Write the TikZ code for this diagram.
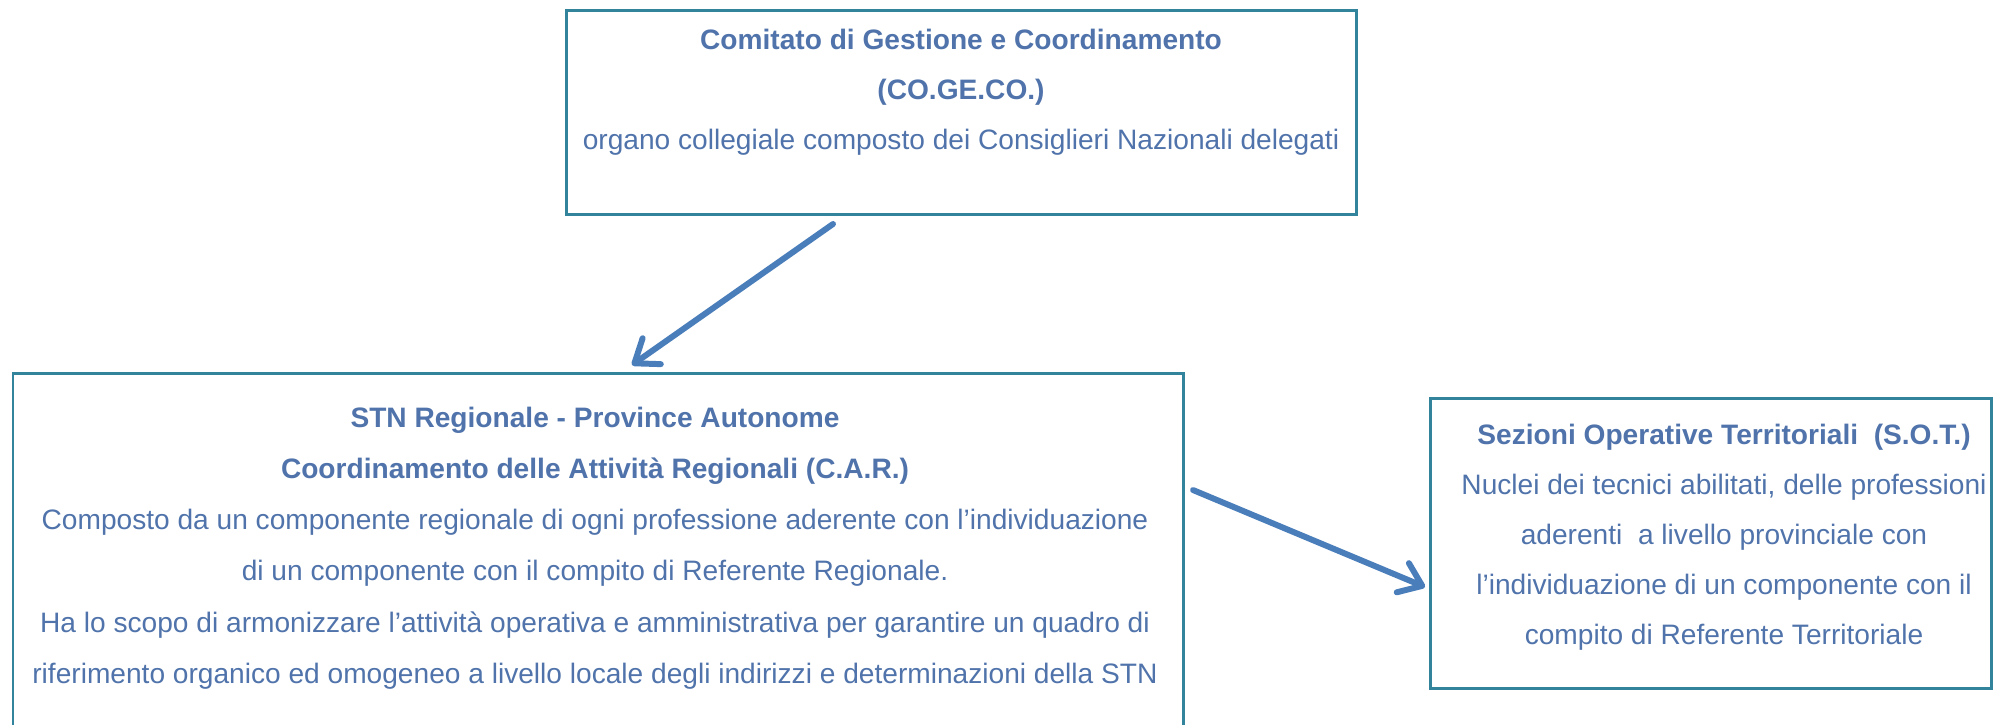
\documentclass[tikz,border=0pt]{standalone}
\usepackage{fontspec}
\setmainfont{Liberation Sans}
\usepackage{xcolor}
\usetikzlibrary{arrows.meta,calc}
\definecolor{boxteal}{RGB}{49,132,155}
\definecolor{txtblue}{RGB}{79,115,170}
\definecolor{arrblue}{RGB}{74,126,187}

\tikzset{
  panel/.style={draw=boxteal, line width=0.85pt, rectangle, inner sep=0pt},
  paneltext/.style={text=txtblue, align=center, inner sep=0pt, font=\fontsize{8}{14.2}\selectfont},
  flow/.style={draw=arrblue, line width=1.7pt, line cap=round, -{Straight Barb[length=6pt,width=9pt,round]}}
}

\begin{document}
\begin{tikzpicture}
    \clip (0,0) rectangle (19.95,-7.24);
    % boxes
    \node[panel, minimum width=7.90cm, minimum height=2.04cm] (cogeco) at (9.61,-1.12) {};
    \node[panel, minimum width=11.70cm, minimum height=3.67cm] (car) at (5.98,-5.565) {};
    \node[panel, minimum width=5.61cm, minimum height=2.90cm] (sot) at (17.105,-5.43) {};
    % texts
    \node[paneltext] (cogecotxt) at (9.61,-0.92) {\textbf{Comitato di Gestione e Coordinamento}\\ \textbf{(CO.GE.CO.)}\\ organo collegiale composto dei Consiglieri Nazionali delegati};
    \node[paneltext, font=\fontsize{8}{14.6}\selectfont] (cartxt) at (5.95,-5.48) {\textbf{STN Regionale - Province Autonome}\\ \textbf{Coordinamento delle Attività Regionali (C.A.R.)}\\ Composto da un componente regionale di ogni professione aderente con l’individuazione\\ di un componente con il compito di Referente Regionale.\\ Ha lo scopo di armonizzare l’attività operativa e amministrativa per garantire un quadro di\\ riferimento organico ed omogeneo a livello locale degli indirizzi e determinazioni della STN};
    \node[paneltext] (sottxt) at (17.24,-5.37) {\textbf{Sezioni Operative Territoriali\ \ (S.O.T.)}\\ Nuclei dei tecnici abilitati, delle professioni\\ aderenti\ \ a livello provinciale con\\ l’individuazione di un componente con il\\ compito di Referente Territoriale};
    % arrows
    \coordinate (a1s) at (8.33,-2.24);
    \coordinate (a1e) at (6.32,-3.65);
    \coordinate (a2s) at (11.93,-4.90);
    \coordinate (a2e) at (14.25,-5.87);
    \draw[flow] (a1s) -- (a1e);
    \draw[flow] (a2s) -- (a2e);
\end{tikzpicture}
\end{document}
